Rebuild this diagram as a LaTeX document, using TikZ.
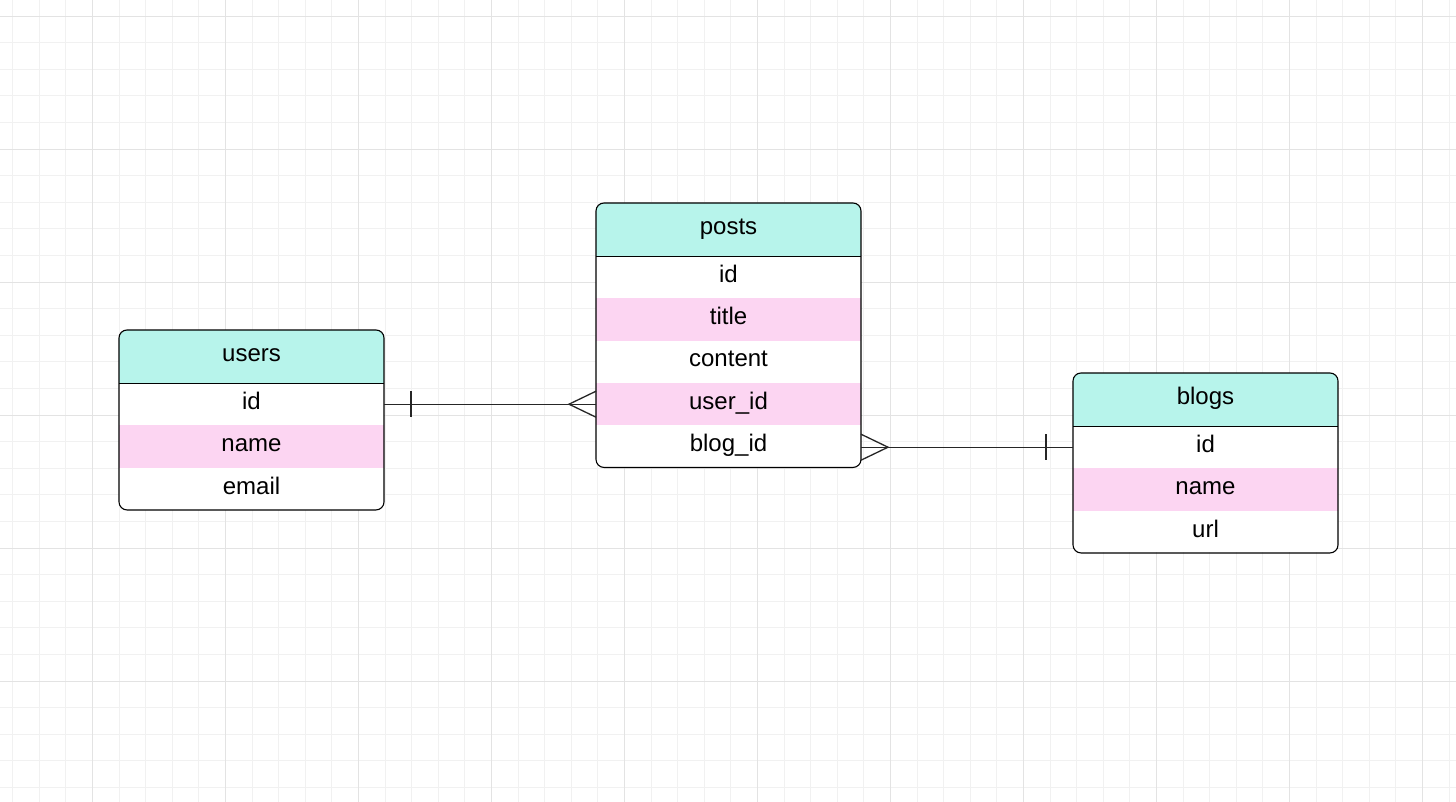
\documentclass[tikz,border=0pt]{standalone}
\usepackage{fontspec}
\setmainfont{Liberation Sans}
\definecolor{hdr}{HTML}{B7F4EB}
\definecolor{pinkrow}{HTML}{FCD5F2}
\definecolor{gridminor}{HTML}{F1F1F1}
\definecolor{gridmajor}{HTML}{E3E3E3}
\tikzset{
  cell/.style={minimum width=265pt, inner sep=0pt, outer sep=0pt, text height=16.5pt, text depth=6pt, font=\fontsize{24}{28}\selectfont, text=black},
  headcell/.style={cell, minimum height=53pt, fill=hdr},
  whitecell/.style={cell, minimum height=42.3pt, fill=white},
  pinkcell/.style={cell, minimum height=42.3pt, fill=pinkrow},
  border/.style={draw=black, line width=1.1pt, rounded corners=8pt},
  conn/.style={draw=black!85, line width=1.3pt},
}
\begin{document}
\begin{tikzpicture}[x=1pt,y=-1pt]
\useasboundingbox (0,0) rectangle (1456,802);
\fill[white] (0,0) rectangle (1456,802);
% grid
\foreach \i in {0,...,54} {
  \draw[gridminor, line width=0.8pt] ({12.5+26.6*\i},0) -- ({12.5+26.6*\i},802);
}
\foreach \i in {0,...,30} {
  \draw[gridminor, line width=0.8pt] (0,{16+26.6*\i}) -- (1456,{16+26.6*\i});
}
\foreach \i in {0,...,10} {
  \draw[gridmajor, line width=0.9pt] ({92.3+133*\i},0) -- ({92.3+133*\i},802);
}
\foreach \i in {0,...,6} {
  \draw[gridmajor, line width=0.9pt] (0,{16+133*\i}) -- (1456,{16+133*\i});
}
% users table
\begin{scope}
\clip[rounded corners=8pt] (119,330) rectangle (384,510);
\node[headcell]  (users-head)  at (251.5,356.5) {users};
\node[whitecell] (users-id)    at (251.5,404.2) {id};
\node[pinkcell]  (users-name)  at (251.5,446.5) {name};
\node[whitecell] (users-email) at (251.5,488.8) {email};
\end{scope}
\draw (users-head.south west) -- (users-head.south east);
\draw[border] (users-head.north west) rectangle (users-email.south east);
% posts table
\begin{scope}
\clip[rounded corners=8pt] (596,203) rectangle (861,467);
\node[headcell]  (posts-head)    at (728.5,229.5) {posts};
\node[whitecell] (posts-id)      at (728.5,277.1) {id};
\node[pinkcell]  (posts-title)   at (728.5,319.4) {title};
\node[whitecell] (posts-content) at (728.5,361.7) {content};
\node[pinkcell]  (posts-user)    at (728.5,404.0) {user\_id};
\node[whitecell] (posts-blog)    at (728.5,446.3) {blog\_id};
\end{scope}
\draw (posts-head.south west) -- (posts-head.south east);
\draw[border] (posts-head.north west) rectangle (posts-blog.south east);
% blogs table
\begin{scope}
\clip[rounded corners=8pt] (1073,373) rectangle (1338,552);
\node[headcell]  (blogs-head) at (1205.5,399.5) {blogs};
\node[whitecell] (blogs-id)   at (1205.5,447.2) {id};
\node[pinkcell]  (blogs-name) at (1205.5,489.5) {name};
\node[whitecell] (blogs-url)  at (1205.5,531.8) {url};
\end{scope}
\draw (blogs-head.south west) -- (blogs-head.south east);
\draw[border] (blogs-head.north west) rectangle (blogs-url.south east);
% connector users.id -> posts.user_id
\coordinate (pu) at (posts-user.west |- users-id.east);
\draw[conn] (users-id.east) -- (pu);
\draw[conn] ([xshift=27pt,yshift=13pt]users-id.east) -- ([xshift=27pt,yshift=-13pt]users-id.east);
\draw[conn] ([yshift=13pt]pu) -- ([xshift=-27pt]pu) -- ([yshift=-13pt]pu);
% connector posts.blog_id -> blogs.id
\coordinate (pb) at (posts-blog.east |- blogs-id.west);
\draw[conn] (pb) -- (blogs-id.west);
\draw[conn] ([yshift=13pt]pb) -- ([xshift=27pt]pb) -- ([yshift=-13pt]pb);
\draw[conn] ([xshift=-27pt,yshift=13pt]blogs-id.west) -- ([xshift=-27pt,yshift=-13pt]blogs-id.west);
\end{tikzpicture}
\end{document}
